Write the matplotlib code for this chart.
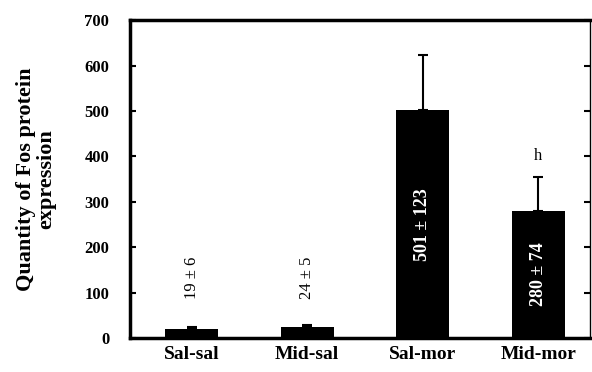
import matplotlib.pyplot as plt

groups = ["Sal-sal", "Mid-sal", "Sal-mor", "Mid-mor"]
means = [19, 24, 501, 280]
sems = [6, 5, 123, 74]
yticks = [0, 100, 200, 300, 400, 500, 600, 700]

plt.rcParams["font.family"] = ["Liberation Serif", "DejaVu Serif"]
plt.rcParams["font.weight"] = "bold"

fig = plt.figure(figsize=(5.92, 3.72), dpi=100)
ax = fig.add_axes([0.2196, 0.0914, 0.777, 0.8546])

x = list(range(len(groups)))
ax.bar(x, means, width=0.46, color="black", zorder=2)
ax.errorbar(x, means, yerr=[[0] * len(sems), sems], fmt="none",
            ecolor="black", elinewidth=1.5, capsize=3.6, capthick=1.5, zorder=1)

# values printed on or above each bar
for i, (m, s) in enumerate(zip(means, sems)):
    label = f"{m} ± {s}"
    if m > 200:
        ax.text(i, m / 2, label, rotation=90, ha="center", va="center",
                color="white", fontsize=13, fontweight="bold")
    else:
        ax.text(i, 132, label, rotation=90, ha="center", va="center",
                color="black", fontsize=12, fontweight="normal")

ax.text(3, 400, "h", ha="center", va="center", fontsize=12, fontweight="normal")

ax.set_xlim(-0.532, 3.447)
ax.set_ylim(0, 700)
ax.set_yticks(yticks)
ax.set_yticklabels([str(v) for v in yticks], fontsize=12, fontweight="bold")
ax.set_xticks(x)
ax.set_xticklabels(groups, fontsize=14, fontweight="bold")
ax.tick_params(axis="x", length=0, pad=6)
ax.tick_params(axis="y", direction="in", length=4, width=1.5, right=True, pad=15)

ax.spines["left"].set_linewidth(2.5)
ax.spines["bottom"].set_linewidth(2.5)
ax.spines["top"].set_linewidth(2.5)
ax.spines["right"].set_linewidth(1)

ax.set_ylabel("Quantity of Fos protein\nexpression", fontsize=16,
              fontweight="bold", labelpad=20, linespacing=1.05)

fig.savefig("out.png", dpi=100)
